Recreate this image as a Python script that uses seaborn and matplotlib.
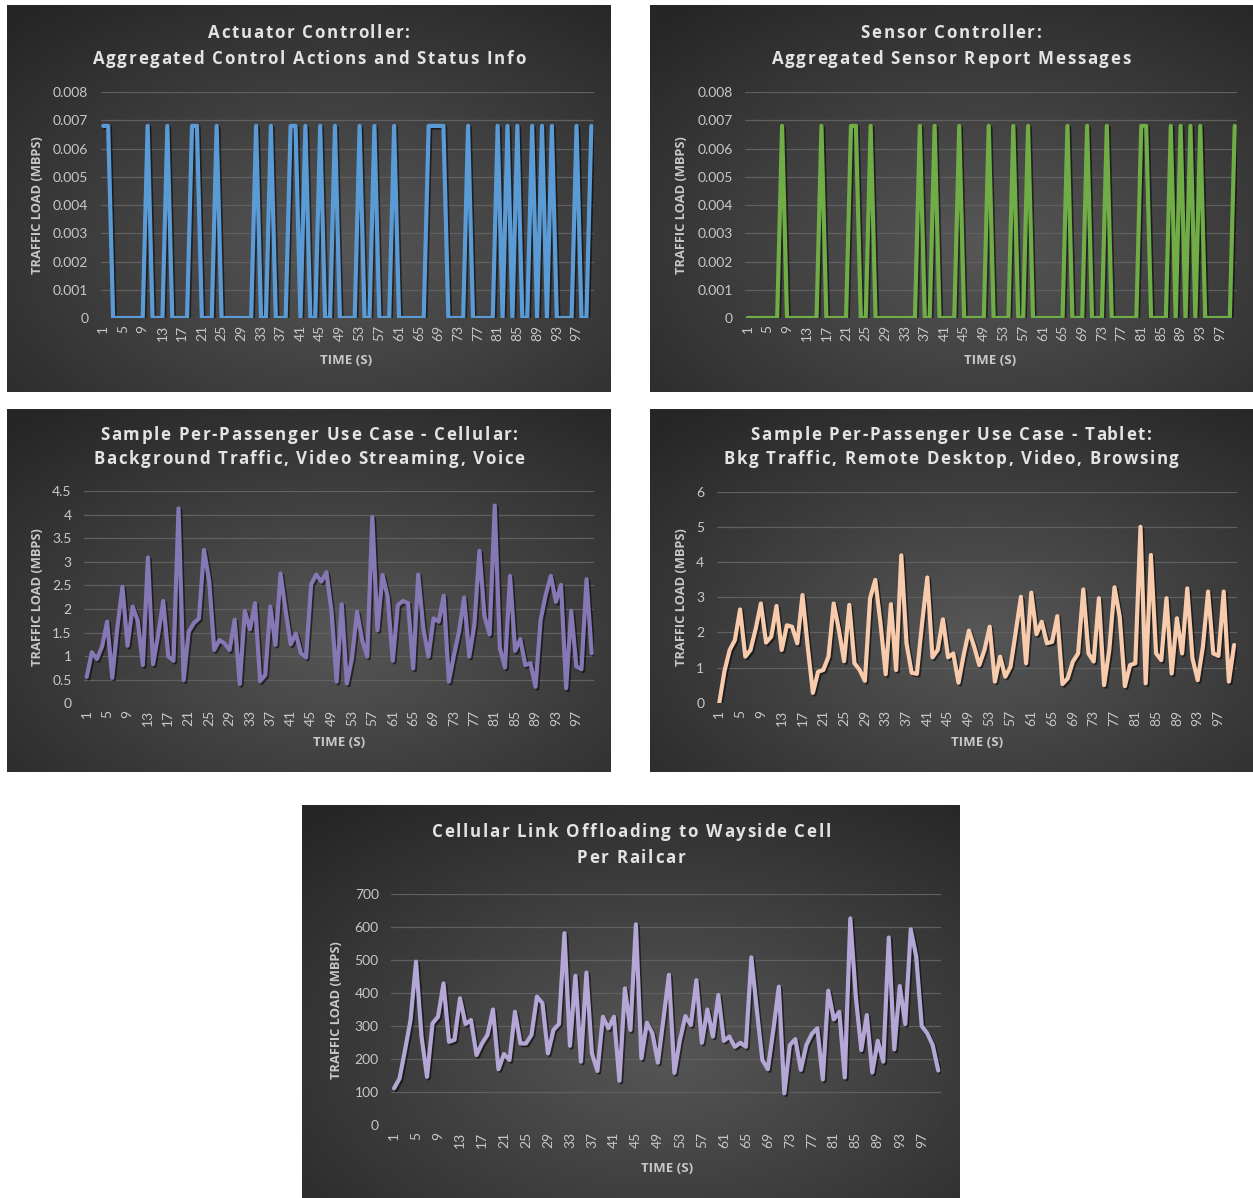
import numpy as np
import pandas as pd
import matplotlib
matplotlib.use("Agg")
import matplotlib.pyplot as plt
import matplotlib.patheffects as pe
import seaborn as sns

# ---------------- data ----------------
time_s = list(range(1, 101))
xtick_labels = [str(v) for v in range(1, 101, 4)]

actuator = [
    0.0068, 0.0068, 0.0, 0.0, 0.0, 0.0, 0.0, 0.0, 0.0, 0.0068,
    0.0, 0.0, 0.0, 0.0068, 0.0, 0.0, 0.0, 0.0, 0.0068, 0.0068,
    0.0, 0.0, 0.0, 0.0068, 0.0, 0.0, 0.0, 0.0, 0.0, 0.0,
    0.0, 0.0068, 0.0, 0.0, 0.0068, 0.0, 0.0, 0.0, 0.0068, 0.0068,
    0.0, 0.0068, 0.0, 0.0, 0.0068, 0.0, 0.0, 0.0068, 0.0, 0.0,
    0.0, 0.0, 0.0068, 0.0, 0.0, 0.0068, 0.0, 0.0, 0.0, 0.0068,
    0.0, 0.0, 0.0, 0.0, 0.0, 0.0, 0.0068, 0.0068, 0.0068, 0.0068,
    0.0, 0.0, 0.0, 0.0, 0.0068, 0.0, 0.0, 0.0, 0.0, 0.0,
    0.0068, 0.0, 0.0068, 0.0, 0.0068, 0.0, 0.0, 0.0068, 0.0, 0.0068,
    0.0, 0.0068, 0.0, 0.0, 0.0, 0.0, 0.0068, 0.0, 0.0, 0.0068,
]

sensor = [
    0.0, 0.0, 0.0, 0.0, 0.0, 0.0, 0.0, 0.0068, 0.0, 0.0,
    0.0, 0.0, 0.0, 0.0, 0.0, 0.0068, 0.0, 0.0, 0.0, 0.0,
    0.0, 0.0068, 0.0068, 0.0, 0.0, 0.0068, 0.0, 0.0, 0.0, 0.0,
    0.0, 0.0, 0.0, 0.0, 0.0, 0.0068, 0.0, 0.0, 0.0068, 0.0,
    0.0, 0.0, 0.0, 0.0068, 0.0, 0.0, 0.0, 0.0, 0.0, 0.0068,
    0.0, 0.0, 0.0, 0.0, 0.0068, 0.0, 0.0, 0.0068, 0.0, 0.0,
    0.0, 0.0, 0.0, 0.0, 0.0, 0.0068, 0.0, 0.0, 0.0, 0.0068,
    0.0, 0.0, 0.0, 0.0068, 0.0, 0.0, 0.0, 0.0, 0.0, 0.0,
    0.0068, 0.0068, 0.0, 0.0, 0.0, 0.0, 0.0068, 0.0, 0.0068, 0.0,
    0.0068, 0.0, 0.0068, 0.0, 0.0, 0.0, 0.0, 0.0, 0.0, 0.0068,
]

cellular = [
    0.56, 1.08, 0.94, 1.20, 1.73, 0.54, 1.60, 2.47, 1.22, 2.05,
    1.75, 0.81, 3.09, 0.83, 1.45, 2.17, 0.99, 0.90, 4.13, 0.49,
    1.52, 1.70, 1.80, 3.25, 2.60, 1.13, 1.34, 1.27, 1.13, 1.77,
    0.41, 1.96, 1.57, 2.12, 0.47, 0.60, 2.05, 1.24, 2.75, 1.96,
    1.25, 1.48, 1.06, 0.97, 2.52, 2.73, 2.58, 2.78, 1.94, 0.46,
    2.10, 0.42, 0.95, 1.94, 1.34, 0.99, 3.95, 1.55, 2.72, 2.26,
    0.90, 2.08, 2.17, 2.12, 0.74, 2.73, 1.59, 0.99, 1.80, 1.73,
    2.28, 0.46, 1.02, 1.52, 2.24, 0.99, 1.66, 3.23, 1.84, 1.46,
    4.19, 1.17, 0.76, 2.70, 1.11, 1.36, 0.81, 0.85, 0.35, 1.77,
    2.30, 2.70, 2.15, 2.51, 0.32, 1.96, 0.78, 0.72, 2.63, 1.06,
]

tablet = [
    0.00, 0.90, 1.50, 1.78, 2.65, 1.31, 1.50, 2.10, 2.82, 1.71,
    1.88, 2.75, 1.50, 2.20, 2.16, 1.69, 3.06, 1.60, 0.28, 0.88,
    0.93, 1.31, 2.82, 2.07, 1.18, 2.78, 1.12, 0.93, 0.62, 2.97,
    3.49, 2.26, 0.81, 2.80, 0.93, 4.19, 1.69, 0.85, 0.82, 2.26,
    3.56, 1.29, 1.50, 2.37, 1.29, 1.40, 0.57, 1.36, 2.05, 1.60,
    1.07, 1.50, 2.16, 0.60, 1.31, 0.74, 1.02, 2.00, 3.01, 1.12,
    3.13, 1.95, 2.30, 1.69, 1.73, 2.46, 0.53, 0.69, 1.17, 1.40,
    3.22, 1.40, 1.17, 2.97, 0.50, 1.50, 3.28, 2.45, 0.47, 1.07,
    1.12, 5.00, 0.55, 4.20, 1.40, 1.21, 2.97, 0.83, 2.40, 1.40,
    3.25, 1.26, 0.64, 1.59, 3.16, 1.40, 1.33, 3.16, 0.60, 1.64,
]

offload = [
    111, 141, 227, 318, 495, 268, 146, 308, 328, 429,
    252, 258, 384, 306, 318, 212, 247, 273, 350, 169,
    215, 197, 343, 247, 247, 273, 389, 369, 217, 288,
    306, 581, 240, 452, 192, 462, 217, 164, 328, 293,
    328, 134, 414, 288, 608, 202, 310, 278, 189, 320,
    455, 158, 257, 330, 303, 439, 249, 350, 268, 394,
    255, 268, 237, 249, 237, 508, 348, 197, 169, 288,
    419, 96, 242, 260, 167, 242, 276, 293, 138, 407,
    320, 343, 144, 626, 390, 227, 333, 159, 255, 192,
    568, 229, 421, 306, 593, 510, 300, 278, 242, 165,
]

ytick_small = [0, 0.001, 0.002, 0.003, 0.004, 0.005, 0.006, 0.007, 0.008]
ytick_small_labels = ["0", "0.001", "0.002", "0.003", "0.004", "0.005", "0.006", "0.007", "0.008"]
ytick_cell = [0, 0.5, 1, 1.5, 2, 2.5, 3, 3.5, 4, 4.5]
ytick_cell_labels = ["0", "0.5", "1", "1.5", "2", "2.5", "3", "3.5", "4", "4.5"]
ytick_tab = [0, 1, 2, 3, 4, 5, 6]
ytick_off = [0, 100, 200, 300, 400, 500, 600, 700]

# ---------------- style ----------------
sns.set_style("dark")
plt.rcParams["font.family"] = ["Lato", "DejaVu Sans"]

W, H = 1253, 1198
fig = plt.figure(figsize=(W / 100, H / 100), dpi=100)
fig.patch.set_facecolor("white")
renderer = fig.canvas.get_renderer()

TXT = "#e3e3e3"
TICK = "#c8c8c8"
GRID = "#606060"
BOLD = ["Open Sans", "DejaVu Sans"]


def frac(x0, y0, x1, y1):
    return [x0 / W, 1 - y1 / H, (x1 - x0) / W, (y1 - y0) / H]


def text_width(s, **kw):
    if not s:
        return 0.0
    t = fig.text(0, 0, s + "|", **kw)
    w1 = t.get_window_extent(renderer).width
    t.remove()
    t = fig.text(0, 0, "|", **kw)
    w2 = t.get_window_extent(renderer).width
    t.remove()
    return w1 - w2


def spaced_text(cx, cy, s, spacing, **kw):
    total = text_width(s, **kw) + spacing * (len(s) - 1)
    start = cx - total / 2
    for k, ch in enumerate(s):
        if ch == " ":
            continue
        x = start + text_width(s[:k], **kw) + k * spacing
        fig.text(x / W, 1 - cy / H, ch, ha="left", va="center", **kw)


def gradient(w, h):
    yy, xx = np.mgrid[0:h, 0:w]
    dx = (xx / (w - 1) - 0.55) / 0.78
    dy = (yy / (h - 1) - 0.62) / 0.78
    r = np.sqrt(dx ** 2 + dy ** 2)
    t = np.clip(r, 0, 1)
    center = np.array([0.34, 0.34, 0.34])
    edge = np.array([0.15, 0.15, 0.15])
    img = center[None, None, :] * (1 - t[..., None]) + edge[None, None, :] * t[..., None]
    return img


def panel(bg, plot, values, color, yticks, yticklabels, ylim, titles, title_y,
          ylab_xy, xlab_xy):
    x0, y0, x1, y1 = bg
    bax = fig.add_axes(frac(*bg), zorder=0)
    bax.imshow(gradient(int(x1 - x0), int(y1 - y0)), extent=[0, 1, 0, 1], aspect="auto")
    bax.axis("off")

    ax = fig.add_axes(frac(*plot), zorder=1)
    ax.set_facecolor("none")
    df = pd.DataFrame({"time": time_s, "load": values})
    sns.lineplot(data=df, x="time", y="load", ax=ax, color=color, linewidth=3.0,
                 path_effects=[pe.SimpleLineShadow(offset=(1.2, -1.2), shadow_color="black", alpha=0.55),
                               pe.Normal()])
    ax.set_xlim(0.5, 100.5)
    ax.set_ylim(*ylim)
    ax.set_xticks(list(range(1, 101, 4)))
    ax.set_xticklabels(xtick_labels, rotation=90, fontsize=10, color=TICK)
    ax.set_yticks(yticks)
    ax.set_yticklabels(yticklabels, fontsize=10, color=TICK)
    ax.tick_params(axis="x", length=0, pad=5)
    ax.tick_params(axis="y", length=0, pad=9)
    ax.grid(False)
    for yv in yticks:
        ax.axhline(yv, color=GRID, linewidth=0.9, zorder=0)
    for s in ax.spines.values():
        s.set_visible(False)
    ax.set_xlabel("")
    ax.set_ylabel("")

    cx = (x0 + x1) / 2
    for t, ty in zip(titles, title_y):
        spaced_text(cx, ty, t, 1.7, fontsize=12.2, fontweight="bold", color=TXT,
                    family=BOLD)
    fig.text(ylab_xy[0] / W, 1 - ylab_xy[1] / H, "TRAFFIC LOAD (MBPS)", rotation=90,
             ha="center", va="center", fontsize=9.3, fontweight="bold", color=TICK, family=BOLD)
    fig.text(xlab_xy[0] / W, 1 - xlab_xy[1] / H, "TIME (S)", ha="center", va="center",
             fontsize=9.5, fontweight="bold", color=TICK, family=BOLD)
    return ax


panel((7, 5, 611, 392), (100.8, 92, 593.8, 318), actuator, "#5b9bd5",
      ytick_small, ytick_small_labels, (0, 0.008),
      ["Actuator Controller:", "Aggregated Control Actions and Status Info"], [33, 59],
      (38, 205), (346, 361))

panel((650, 5, 1252, 392), (745.2, 92, 1237.2, 318), sensor, "#70ad47",
      ytick_small, ytick_small_labels, (0, 0.008),
      ["Sensor Controller:", "Aggregated Sensor Report Messages"], [33, 59],
      (682, 205), (990, 361))

panel((7, 409, 611, 772), (84.2, 491, 594.2, 703.3), cellular, "#8678b4",
      ytick_cell, ytick_cell_labels, (0, 4.5),
      ["Sample Per-Passenger Use Case - Cellular:", "Background Traffic, Video Streaming, Voice"],
      [435, 459], (38, 597), (339, 743))

panel((650, 409, 1252, 772), (716.7, 491.7, 1236.7, 702.7), tablet, "#f8cbad",
      ytick_tab, [str(v) for v in ytick_tab], (0, 6),
      ["Sample Per-Passenger Use Case - Tablet:", "Bkg Traffic, Remote Desktop, Video, Browsing"],
      [435, 459], (682, 597), (977, 743))

panel((302, 805, 960, 1198), (391.3, 894, 941, 1125), offload, "#b4a7d6",
      ytick_off, [str(v) for v in ytick_off], (0, 700),
      ["Cellular Link Offloading to Wayside Cell", "Per Railcar"], [832, 858],
      (336, 1010), (667, 1168))

fig.savefig("out.png", dpi=100, facecolor="white")
